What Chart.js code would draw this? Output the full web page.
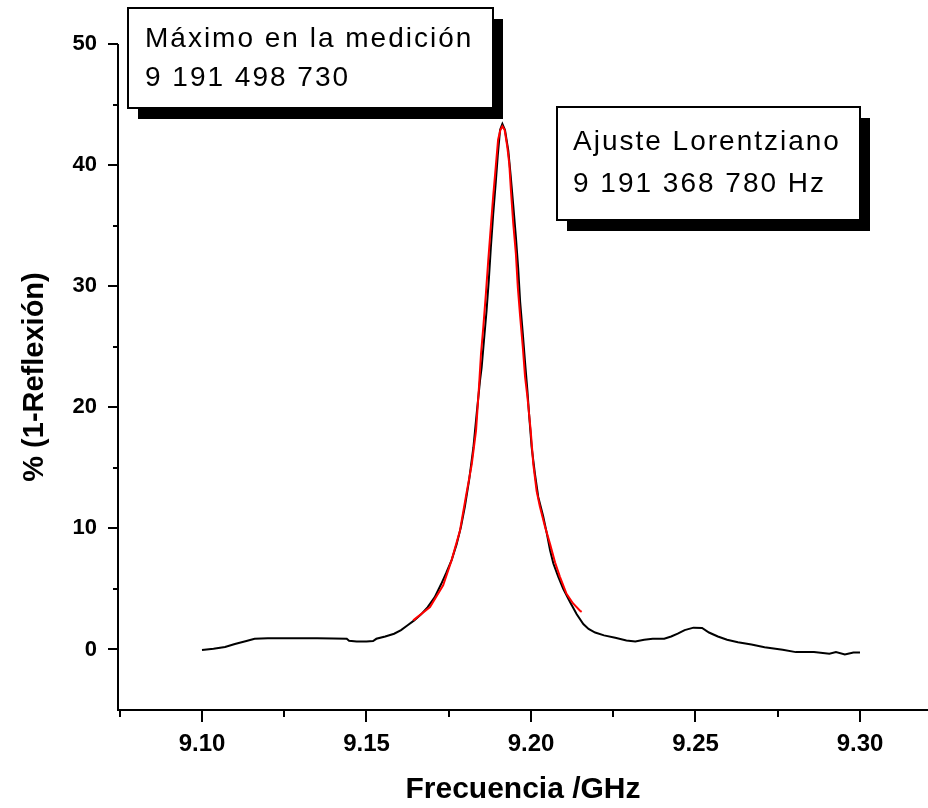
<!DOCTYPE html>
<html>
<head>
<meta charset="utf-8">
<script src="https://cdn.jsdelivr.net/npm/chart.js@4.4.1/dist/chart.umd.min.js"></script>
<style>
  html, body { margin: 0; padding: 0; background: #fff; }
  #wrap { width: 928px; height: 808px; }
</style>
</head>
<body>
<div id="wrap"><canvas id="c" width="928" height="808"></canvas></div>
<script>
// ---- Data ----
const measFreq = [9.1000, 9.1035, 9.1070, 9.1100, 9.1135, 9.1160, 9.1200, 9.1250, 9.1300, 9.1350, 9.1400, 9.1440,
  9.1447, 9.1470, 9.1500, 9.1520, 9.1530, 9.1557, 9.1584, 9.1605, 9.1625, 9.1645, 9.1666, 9.1686, 9.1707, 9.1727,
  9.1742, 9.1759, 9.1774, 9.1787, 9.1799, 9.1812, 9.1825, 9.1835, 9.1845, 9.1850, 9.1857, 9.1865, 9.1872, 9.1878,
  9.1885, 9.1893, 9.1899, 9.1906, 9.1913, 9.1921, 9.1931, 9.1938, 9.1946, 9.1954, 9.1961, 9.1967, 9.1975, 9.1982,
  9.1989, 9.1994, 9.2002, 9.2012, 9.2022, 9.2037, 9.2048, 9.2058, 9.2068, 9.2083, 9.2098, 9.2119, 9.2139, 9.2159,
  9.2175, 9.2195, 9.2222, 9.2256, 9.2290, 9.2317, 9.2344, 9.2370, 9.2405, 9.2426, 9.2446, 9.2467, 9.2494, 9.2520,
  9.2541, 9.2568, 9.2596, 9.2629, 9.2670, 9.2710, 9.2765, 9.2805, 9.2860, 9.2907, 9.2927, 9.2954, 9.2980, 9.3000];
const measPct = [-0.05, 0.05, 0.20, 0.45, 0.70, 0.88, 0.92, 0.92, 0.92, 0.92, 0.90, 0.88,
  0.72, 0.66, 0.66, 0.70, 0.88, 1.07, 1.30, 1.60, 2.00, 2.40, 2.90, 3.50, 4.30, 5.40,
  6.30, 7.40, 8.70, 10.1, 11.8, 14.0, 16.7, 19.5, 22.2, 23.3, 25.5, 28.0, 30.6, 33.2,
  35.9, 38.6, 40.8, 42.9, 43.4, 42.9, 41.2, 39.2, 36.7, 34.1, 31.5, 28.7, 26.1, 23.7,
  21.4, 19.5, 16.7, 14.5, 12.6, 11.0, 9.6, 8.2, 7.1, 6.0, 5.0, 3.9, 2.9, 2.1,
  1.7, 1.4, 1.16, 0.96, 0.74, 0.66, 0.80, 0.88, 0.88, 1.07, 1.30, 1.60, 1.80, 1.77,
  1.40, 1.07, 0.80, 0.60, 0.41, 0.19, -0.03, -0.22, -0.22, -0.36, -0.22, -0.41, -0.25, -0.25];

const fitFreq = [9.1642, 9.1693, 9.1733, 9.1759, 9.1784, 9.1804, 9.1820, 9.1833, 9.1842, 9.1848, 9.1855, 9.1863,
  9.1870, 9.1877, 9.1885, 9.1893, 9.1900, 9.1907, 9.1913, 9.1920, 9.1928, 9.1934, 9.1939, 9.1946, 9.1954, 9.1960,
  9.1967, 9.1975, 9.1982, 9.1989, 9.1999, 9.2007, 9.2017, 9.2027, 9.2043, 9.2058, 9.2073, 9.2088, 9.2108, 9.2128,
  9.2149, 9.2154];
const fitPct = [2.4, 3.5, 5.3, 7.4, 9.8, 12.9, 15.3, 18.1, 21.7, 24.4, 26.6, 29.4,
  32.1, 34.6, 37.4, 39.9, 42.1, 42.9, 43.2, 42.9, 41.5, 40.1, 37.9, 35.2, 32.7, 29.9,
  27.5, 25.0, 22.5, 20.9, 18.1, 15.3, 13.1, 11.8, 10.1, 8.7, 7.2, 6.0, 4.6, 3.8,
  3.2, 3.1];

const xMajorTicks = [9.10, 9.15, 9.20, 9.25, 9.30];
const xTickLabels = ['9.10', '9.15', '9.20', '9.25', '9.30'];
const xMinorTicks = [9.075, 9.125, 9.175, 9.225, 9.275];
const yMajorTicks = [0, 10, 20, 30, 40, 50];
const yTickLabels = ['0', '10', '20', '30', '40', '50'];
const yMinorTicks = [5, 15, 25, 35, 45];

const xTitle = 'Frecuencia /GHz';
const yTitle = '% (1-Reflexión)';
const box1Lines = ['Máximo en la medición', '9 191 498 730'];
const box2Lines = ['Ajuste Lorentziano', '9 191 368 780 Hz'];

const X_MIN = 9.07447, X_MAX = 9.32067, Y_MIN = -5, Y_MAX = 50;

// ---- build ----
const measPts = measFreq.map((f, i) => ({ x: f, y: measPct[i] }));
const fitPts = fitFreq.map((f, i) => ({ x: f, y: fitPct[i] }));

const FONT = "'Liberation Sans', Arial, sans-serif";

const axesPlugin = {
  id: 'axesFrame',
  afterDraw(chart) {
    const ctx = chart.ctx;
    const xs = chart.scales.x, ys = chart.scales.y;
    const a = chart.chartArea;
    ctx.save();
    ctx.strokeStyle = '#000';
    ctx.lineWidth = 2;
    ctx.lineCap = 'butt';
    // axis lines
    ctx.beginPath();
    ctx.moveTo(a.left, a.top);
    ctx.lineTo(a.left, a.bottom + 1);
    ctx.moveTo(a.left - 1, a.bottom);
    ctx.lineTo(a.right, a.bottom);
    ctx.stroke();
    // y ticks
    ctx.beginPath();
    yMajorTicks.forEach(v => { const p = Math.round(ys.getPixelForValue(v)); ctx.moveTo(a.left - 10, p); ctx.lineTo(a.left, p); });
    yMinorTicks.forEach(v => { const p = Math.round(ys.getPixelForValue(v)); ctx.moveTo(a.left - 5, p); ctx.lineTo(a.left, p); });
    // x ticks
    xMajorTicks.forEach(v => { const p = Math.round(xs.getPixelForValue(v)); ctx.moveTo(p, a.bottom); ctx.lineTo(p, a.bottom + 12); });
    xMinorTicks.forEach(v => { const p = Math.round(xs.getPixelForValue(v)); ctx.moveTo(p, a.bottom); ctx.lineTo(p, a.bottom + 7); });
    ctx.stroke();

    // annotation boxes
    function drawBox(x, y, w, h, lines, tx, baselines) {
      ctx.fillStyle = '#000';
      ctx.fillRect(x + 10, y + 11, w, h);
      ctx.fillStyle = '#fff';
      ctx.fillRect(x, y, w, h);
      ctx.strokeStyle = '#000';
      ctx.lineWidth = 2;
      ctx.strokeRect(x, y, w, h);
      ctx.fillStyle = '#000';
      ctx.font = '28px ' + FONT;
      try { ctx.letterSpacing = '2px'; } catch (e) {}
      ctx.textAlign = 'left';
      ctx.textBaseline = 'alphabetic';
      lines.forEach((t, i) => ctx.fillText(t, tx, baselines[i]));
      try { ctx.letterSpacing = '0px'; } catch (e) {}
    }
    drawBox(128, 8, 365, 100, box1Lines, 145, [47, 86]);
    drawBox(557, 107, 303, 113, box2Lines, 573, [150, 192]);
    ctx.restore();
  }
};

new Chart(document.getElementById('c'), {
  type: 'line',
  data: {
    datasets: [
      { label: 'Ajuste', data: fitPts, borderColor: '#ff0000', borderWidth: 2, pointRadius: 0, tension: 0, order: 0 },
      { label: 'Medición', data: measPts, borderColor: '#000000', borderWidth: 2, pointRadius: 0, tension: 0, order: 1 }
    ]
  },
  options: {
    responsive: false,
    animation: false,
    devicePixelRatio: 1,
    layout: { padding: { top: 44, left: 0, right: 0, bottom: 0 } },
    plugins: { legend: { display: false }, tooltip: { enabled: false } },
    scales: {
      x: {
        type: 'linear', min: X_MIN, max: X_MAX,
        grid: { display: false, drawTicks: false },
        border: { display: false },
        afterBuildTicks: s => { s.ticks = xMajorTicks.map(v => ({ value: v })); },
        afterFit: s => { s.height = 98; },
        ticks: {
          autoSkip: false, maxRotation: 0, padding: 20, color: '#000',
          font: { family: FONT, size: 24, weight: 'bold' },
          callback: (v, i) => xTickLabels[i]
        },
        title: { display: true, text: xTitle, color: '#000', padding: { top: 0, bottom: 0 },
                 font: { family: FONT, size: 30, weight: 'bold' } }
      },
      y: {
        type: 'linear', min: Y_MIN, max: Y_MAX,
        grid: { display: false, drawTicks: false },
        border: { display: false },
        afterBuildTicks: s => { s.ticks = yMajorTicks.map(v => ({ value: v })); },
        afterFit: s => { s.width = 118; },
        ticks: {
          autoSkip: false, padding: 21, color: '#000',
          font: { family: FONT, size: 22, weight: 'bold' },
          callback: (v, i) => yTickLabels[i]
        },
        title: { display: true, text: yTitle, color: '#000', padding: { top: 18, bottom: 0 },
                 font: { family: FONT, size: 29, weight: 'bold' } }
      }
    }
  },
  plugins: [axesPlugin]
});
</script>
</body>
</html>
